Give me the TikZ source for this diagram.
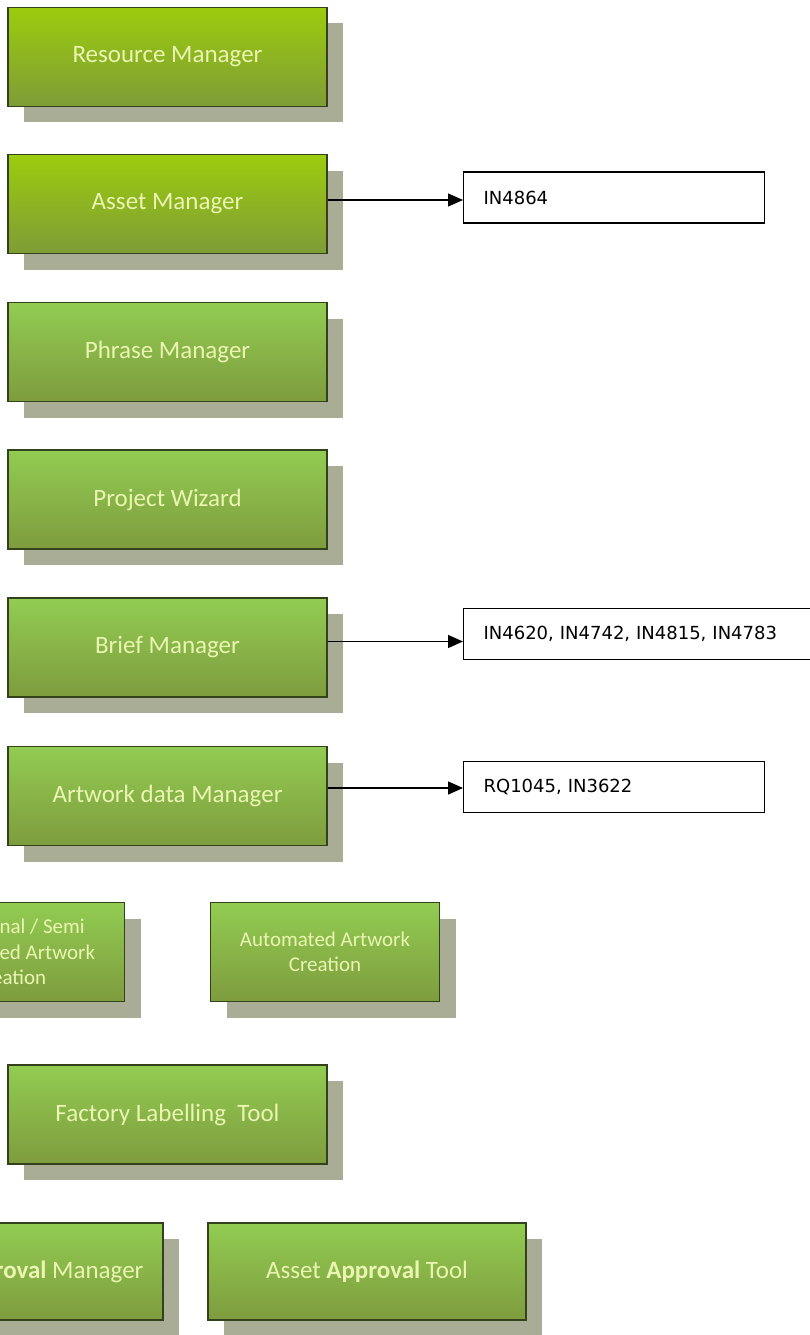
\documentclass[tikz,border=0pt]{standalone}
\usepackage{fontspec}
\setmainfont{Carlito}
\newfontfamily\ticketfont{DejaVu Sans}
\usetikzlibrary{arrows.meta,positioning,shadows}

\definecolor{limetop}{RGB}{156,204,14}
\definecolor{limebot}{RGB}{126,156,54}
\definecolor{leaftop}{RGB}{146,204,82}
\definecolor{leafbot}{RGB}{126,156,62}
\definecolor{edgegreen}{RGB}{52,66,28}
\definecolor{shadowgray}{RGB}{170,173,150}
\definecolor{paletext}{RGB}{234,245,178}

\begin{document}
\begin{tikzpicture}[x=1pt,y=-1pt,
  module/.style={draw=edgegreen,line width=1.2pt,top color=leaftop,bottom color=leafbot,
    text=paletext,font=\fontsize{25}{30}\selectfont,align=center,inner sep=0pt,
    minimum width=319pt,minimum height=99pt,
    drop shadow={shadow xshift=16pt,shadow yshift=-16pt,fill=shadowgray,opacity=1}},
  lime/.style={top color=limetop,bottom color=limebot},
  narrow/.style={minimum width=229pt,font=\fontsize{21}{25.5}\selectfont},
  wide/.style={minimum width=318pt,minimum height=97pt},
  ticket/.style={draw,line width=1.2pt,fill=white,anchor=west,align=left,
    font=\ticketfont\fontsize{18}{22}\selectfont,inner xsep=20pt,inner ysep=0pt,
    minimum height=51pt,text width=261pt},
  link/.style={line width=1.2pt,-{Triangle[length=15pt,width=13pt]}}]

  % page
  \useasboundingbox (0,0) rectangle (810,1335);
  \clip (0,0) rectangle (810,1335);

  % module column
  \node[module,lime] (resource) at (167.5,57) {Resource Manager};
  \node[module,lime] (asset) at (167.5,204) {Asset Manager};
  \node[module] (phrase) at (167.5,352) {Phrase Manager};
  \node[module] (wizard) at (167.5,499.5) {Project Wizard};
  \node[module] (brief) at (167.5,647.5) {Brief Manager};
  \node[module] (artdata) at (167.5,796) {Artwork data Manager};

  % creation row
  \node[module,narrow] (manual) at (10,952) {Traditional / Semi\\Automated Artwork\\Creation};
  \node[module,narrow] (automated) at (325,952) {Automated Artwork\\Creation};

  \node[module] (factory) at (167.5,1114.5) {Factory Labelling\ \ Tool};

  % approval row
  \node[module,wide] (artapproval) at (4,1271.5) {Artwork \textbf{Approval} Manager};
  \node[module,wide] (assetapproval) at (367,1271.5) {Asset \textbf{Approval} Tool};

  % tickets
  \node[ticket] (assetref) at (463,197.5) {IN4864};
  \node[ticket,text width=340pt] (briefref) at (463,634) {IN4620, IN4742, IN4815, IN4783};
  \node[ticket] (artref) at (463,787) {RQ1045, IN3622};

  \draw[link] ([yshift=4pt]asset.east) -- ([yshift=4pt]asset.east -| assetref.west);
  \draw[link] ([yshift=6pt]brief.east) -- ([yshift=6pt]brief.east -| briefref.west);
  \draw[link] ([yshift=8pt]artdata.east) -- ([yshift=8pt]artdata.east -| artref.west);
\end{tikzpicture}
\end{document}
